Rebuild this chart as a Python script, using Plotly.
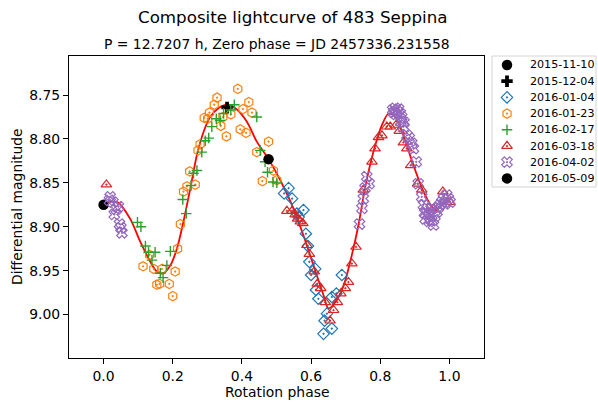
import plotly.graph_objects as go

# ---- Fourier fit of the composite lightcurve (phase, magnitude) ----
fit_phase = [0.000, 0.040, 0.077, 0.106, 0.130, 0.154, 0.173, 0.193, 0.212, 0.231,
             0.251, 0.270, 0.289, 0.308, 0.332, 0.357, 0.381, 0.414, 0.443, 0.477,
             0.516, 0.549, 0.578, 0.607, 0.636, 0.650, 0.670, 0.694, 0.718, 0.737,
             0.756, 0.780, 0.805, 0.824, 0.843, 0.867, 0.896, 0.925, 0.949, 0.959,
             0.978, 1.000]
fit_mag = [8.873, 8.872, 8.891, 8.917, 8.936, 8.951, 8.953, 8.944, 8.925, 8.894,
           8.856, 8.818, 8.792, 8.775, 8.765, 8.761, 8.765, 8.780, 8.803, 8.823,
           8.851, 8.879, 8.910, 8.944, 8.978, 8.993, 8.986, 8.967, 8.932, 8.898,
           8.856, 8.815, 8.784, 8.771, 8.775, 8.796, 8.830, 8.860, 8.877, 8.881,
           8.875, 8.870]

# ---- observing sessions ----
ph_20151110 = [0.000]
mag_20151110 = [8.875]

ph_20151204 = [0.357]
mag_20151204 = [8.764]

ph_20160104 = [0.522, 0.535, 0.545, 0.559, 0.564, 0.578, 0.585, 0.591, 0.595, 0.600,
               0.612, 0.614, 0.621, 0.646, 0.639, 0.636, 0.660, 0.660, 0.673, 0.689]
mag_20160104 = [8.862, 8.856, 8.868, 8.885, 8.889, 8.881, 8.908, 8.922, 8.940, 8.955,
                8.948, 8.972, 8.982, 8.999, 9.007, 9.022, 9.016, 8.980, 8.976, 8.955]

ph_20160123 = [0.114, 0.133, 0.145, 0.169, 0.154, 0.162, 0.190, 0.200, 0.207, 0.214,
               0.222, 0.231, 0.241, 0.249, 0.265, 0.273, 0.279, 0.291, 0.301, 0.306,
               0.320, 0.328, 0.339, 0.355, 0.345, 0.368, 0.388, 0.395, 0.403, 0.412,
               0.420, 0.429, 0.443, 0.477, 0.459, 0.491, 0.501]
mag_20160123 = [8.945, 8.932, 8.948, 8.948, 8.966, 8.965, 8.965, 8.979, 8.951, 8.925,
                8.897, 8.860, 8.854, 8.837, 8.852, 8.813, 8.806, 8.776, 8.777, 8.770,
                8.761, 8.753, 8.785, 8.797, 8.775, 8.772, 8.743, 8.789, 8.766, 8.793,
                8.758, 8.770, 8.815, 8.803, 8.848, 8.836, 8.847]

ph_20160217 = [0.098, 0.108, 0.121, 0.130, 0.149, 0.140, 0.164, 0.172, 0.183, 0.193,
               0.229, 0.239, 0.253, 0.260, 0.270, 0.284, 0.294, 0.304, 0.313, 0.326,
               0.337, 0.347, 0.368, 0.378, 0.443, 0.453, 0.467, 0.474, 0.490, 0.501]
mag_20160217 = [8.895, 8.900, 8.922, 8.929, 8.929, 8.938, 8.953, 8.958, 8.944, 8.928,
                8.869, 8.885, 8.853, 8.839, 8.836, 8.815, 8.802, 8.799, 8.786, 8.777,
                8.779, 8.771, 8.767, 8.761, 8.775, 8.813, 8.826, 8.838, 8.849, 8.850]

ph_20160318 = [0.008, 0.530, 0.545, 0.554, 0.561, 0.569, 0.576, 0.588, 0.595, 0.609,
               0.618, 0.628, 0.641, 0.655, 0.665, 0.676, 0.686, 0.699, 0.708, 0.718,
               0.730, 0.751, 0.776, 0.785, 0.795, 0.805, 0.819, 0.829, 0.846, 0.855,
               0.867, 0.877, 0.888, 0.908, 0.920, 0.954, 0.981, 1.002]
mag_20160318 = [8.852, 8.882, 8.882, 8.886, 8.891, 8.894, 8.896, 8.921, 8.931, 8.951,
                8.965, 8.970, 8.986, 9.007, 8.995, 8.986, 8.976, 8.970, 8.963, 8.942,
                8.923, 8.858, 8.826, 8.811, 8.798, 8.796, 8.786, 8.786, 8.784, 8.791,
                8.804, 8.811, 8.830, 8.851, 8.858, 8.879, 8.860, 8.872]

ph_20160402 = [0.017, 0.019, 0.027, 0.031, 0.037, 0.043, 0.046, 0.050, 0.053,
               0.740, 0.747, 0.751, 0.756, 0.761, 0.768,
               0.836, 0.839, 0.843, 0.846, 0.850, 0.853, 0.858, 0.860, 0.862, 0.867,
               0.869, 0.877, 0.884, 0.891, 0.896, 0.904, 0.910, 0.920, 0.925, 0.928,
               0.930, 0.935, 0.939, 0.942, 0.944, 0.947, 0.949, 0.954, 0.958, 0.964,
               0.968, 0.973, 0.978, 0.983, 0.987, 0.992, 0.997, 1.002]
mag_20160402 = [8.870, 8.866, 8.872, 8.886, 8.880, 8.877, 8.897, 8.901, 8.907,
                8.897, 8.879, 8.868, 8.856, 8.843, 8.851,
                8.767, 8.770, 8.765, 8.772, 8.769, 8.766, 8.771, 8.780, 8.775, 8.786,
                8.781, 8.796, 8.799, 8.805, 8.811, 8.826, 8.851, 8.866, 8.875, 8.884,
                8.891, 8.879, 8.887, 8.894, 8.885, 8.880, 8.893, 8.898, 8.888, 8.883,
                8.878, 8.875, 8.872, 8.868, 8.874, 8.864, 8.868, 8.872]

ph_20160509 = [0.477]
mag_20160509 = [8.823]

session_labels = ["2015-11-10", "2015-12-04", "2016-01-04", "2016-01-23",
                  "2016-02-17", "2016-03-18", "2016-04-02", "2016-05-09"]

x_ticks = [0.0, 0.2, 0.4, 0.6, 0.8, 1.0]
y_ticks = [8.75, 8.80, 8.85, 8.90, 8.95, 9.00]

# ---- styling per session ----
BLACK = "#000000"
C0, C1, C2, C3, C4 = "#1f77b4", "#ff7f0e", "#2ca02c", "#d62728", "#9467bd"

sessions = [
    (ph_20151110, mag_20151110, dict(symbol="circle", size=10.5, color=BLACK, line=dict(width=0))),
    (ph_20151204, mag_20151204, dict(symbol="cross", size=9.5, color=BLACK, line=dict(width=0))),
    (ph_20160104, mag_20160104, dict(symbol="diamond-open-dot", size=8.8, color=C0, line=dict(width=1.2, color=C0))),
    (ph_20160123, mag_20160123, dict(symbol="hexagon-open-dot", size=9.3, color=C1, line=dict(width=1.2, color=C1))),
    (ph_20160217, mag_20160217, dict(symbol="cross-thin-open", size=7.5, color=C2, line=dict(width=1.4, color=C2))),
    (ph_20160318, mag_20160318, dict(symbol="triangle-up-open-dot", size=9.3, color=C3, line=dict(width=1.2, color=C3))),
    (ph_20160402, mag_20160402, dict(symbol="x-open-dot", size=9.3, color=C4, line=dict(width=1.2, color=C4))),
    (ph_20160509, mag_20160509, dict(symbol="circle", size=10.5, color=BLACK, line=dict(width=0))),
]

W, H = 598, 408
FONT = "DejaVu Sans"

# plot area in pixels
PL, PR, PT, PB = 69, 484, 56, 358
# legend box in pixels
LL, LR, LT, LB = 492, 596, 56, 187
ROW0, ROWH = 65, 16.2

fig = go.Figure()

fig.add_trace(go.Scatter(x=fit_phase, y=fit_mag, mode="lines",
                         line=dict(color="#ff0000", width=1.8, shape="spline", smoothing=0.8),
                         hoverinfo="skip", showlegend=False))

for (ph, mg, mk), lab in zip(sessions, session_labels):
    fig.add_trace(go.Scatter(x=ph, y=mg, mode="markers", marker=mk, name=lab,
                             showlegend=False))

# legend drawn on its own hidden axes: one row per session
legend_x_marker = (507 - LL) / (LR - LL)
legend_x_text = (528 - LL) / (LR - LL)
for k, ((ph, mg, mk), lab) in enumerate(zip(sessions, session_labels)):
    fig.add_trace(go.Scatter(x=[legend_x_marker], y=[k], mode="markers", marker=mk,
                             xaxis="x2", yaxis="y2", showlegend=False, hoverinfo="skip"))
    fig.add_annotation(x=legend_x_text, y=k, xref="x2", yref="y2", text=lab,
                       showarrow=False, xanchor="left", yanchor="middle",
                       font=dict(family=FONT, size=11.1, color="black"))

fig.add_shape(type="rect", xref="x2 domain", yref="y2 domain", x0=0, x1=1, y0=0, y1=1,
              line=dict(color="#d4d4d4", width=1), fillcolor="rgba(255,255,255,0.8)",
              layer="below")

axis_common = dict(showline=True, linecolor="black", linewidth=1, mirror=True,
                   ticks="outside", ticklen=5, tickwidth=1, tickcolor="black",
                   showgrid=False, zeroline=False,
                   tickfont=dict(family=FONT, size=13.9, color="black"))

fig.update_layout(
    width=W, height=H,
    margin=dict(l=0, r=0, t=0, b=0),
    paper_bgcolor="white", plot_bgcolor="white",
    showlegend=False,
    xaxis=dict(domain=[PL / W, PR / W], range=[-0.1, 1.1], tickvals=x_ticks,
               ticktext=[f"{v:.1f}" for v in x_ticks], anchor="y", **axis_common),
    yaxis=dict(domain=[1 - PB / H, 1 - PT / H], range=[9.0495, 8.7055], tickvals=y_ticks,
               ticktext=[f"{v:.2f}" for v in y_ticks], anchor="x", **axis_common),
    xaxis2=dict(domain=[LL / W, LR / W], range=[0, 1], visible=False, anchor="y2",
                fixedrange=True),
    yaxis2=dict(domain=[1 - LB / H, 1 - LT / H],
                range=[(LB - ROW0) / ROWH, (LT - ROW0) / ROWH], visible=False,
                anchor="x2", fixedrange=True),
)

# titles and axis labels
fig.add_annotation(text="Composite lightcurve of 483 Seppina", xref="paper", yref="paper",
                   x=292 / W, y=1 - 17 / H, showarrow=False, xanchor="center", yanchor="middle",
                   font=dict(family=FONT, size=16.7, color="black"))
fig.add_annotation(text="P = 12.7207 h, Zero phase = JD 2457336.231558", xref="paper", yref="paper",
                   x=(PL + PR) / 2 / W, y=1 - 44 / H, showarrow=False, xanchor="center",
                   yanchor="middle", font=dict(family=FONT, size=13.9, color="black"))
fig.add_annotation(text="Rotation phase", xref="paper", yref="paper",
                   x=(PL + PR) / 2 / W, y=1 - 392 / H, showarrow=False, xanchor="center",
                   yanchor="middle", font=dict(family=FONT, size=13.9, color="black"))
fig.add_annotation(text="Differential magnitude", xref="paper", yref="paper",
                   x=17 / W, y=1 - (PT + PB) / 2 / H, showarrow=False, textangle=-90,
                   xanchor="center", yanchor="middle",
                   font=dict(family=FONT, size=13.9, color="black"))

fig.write_html("out.html")
